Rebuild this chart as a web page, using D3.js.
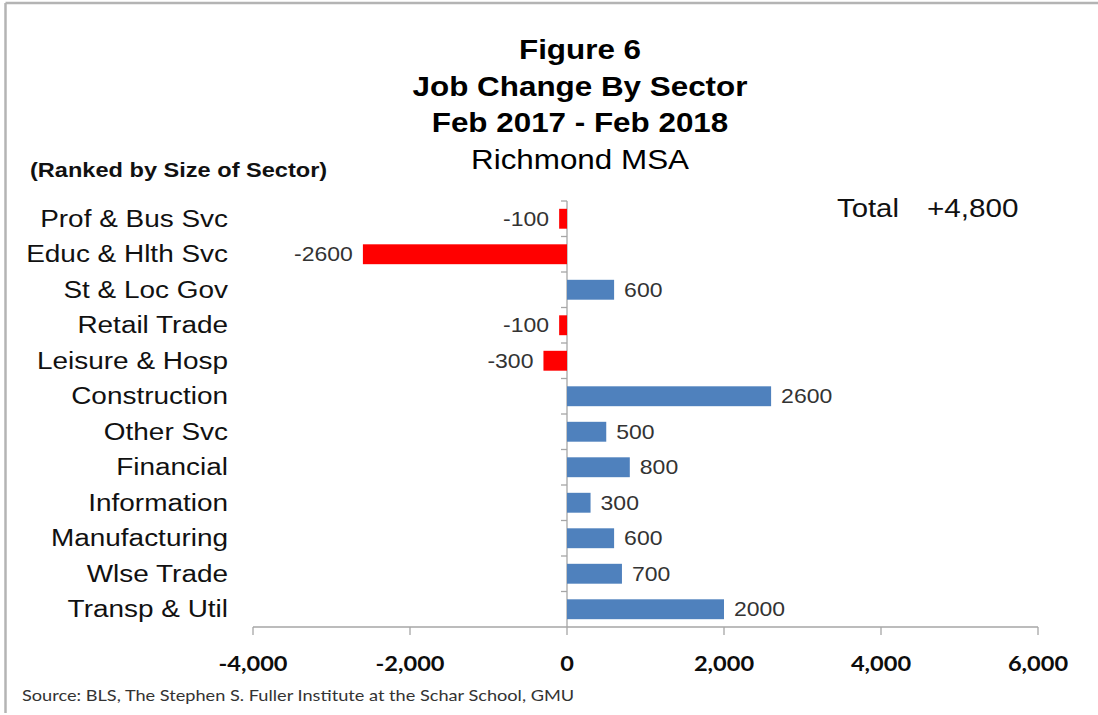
<!DOCTYPE html>
<html>
<head>
<meta charset="utf-8">
<script src="https://cdn.jsdelivr.net/npm/d3@7"></script>
<style>
  html, body { margin: 0; padding: 0; background: #fff; }
  svg { display: block; }
</style>
</head>
<body>
<svg id="chart" width="1098" height="715"></svg>
<script>
// Sector job change, Feb 2017 - Feb 2018, Richmond MSA (ranked by size of sector)
const sectors = [
  "Prof & Bus Svc", "Educ & Hlth Svc", "St & Loc Gov", "Retail Trade",
  "Leisure & Hosp", "Construction", "Other Svc", "Financial",
  "Information", "Manufacturing", "Wlse Trade", "Transp & Util"
];
const jobChange = [-100, -2600, 600, -100, -300, 2600, 500, 800, 300, 600, 700, 2000];
const xTicks = [-4000, -2000, 0, 2000, 4000, 6000];
const titleLines = ["Figure 6", "Job Change By Sector", "Feb 2017 - Feb 2018", "Richmond MSA"];
const totalLabel = ["Total", "+4,800"];
const subtitle = "(Ranked by Size of Sector)";
const sourceNote = "Source: BLS, The Stephen S. Fuller Institute at the Schar School, GMU";

const SX = 1.15; // horizontal glyph stretch used by this figure's type
const ARIAL = "'Liberation Sans', Arial, sans-serif";
const CALIBRI = "Lato, 'Open Sans', sans-serif";

const svg = d3.select("#chart");

// frame
svg.append("line").attr("x1", 5.5).attr("x2", 1098).attr("y1", 3).attr("y2", 3)
  .attr("stroke", "#b4b4b4").attr("stroke-width", 2.5);
svg.append("line").attr("x1", 5.5).attr("x2", 5.5).attr("y1", 3).attr("y2", 713)
  .attr("stroke", "#b4b4b4").attr("stroke-width", 2.5);

function txt(x, y, s, opts) {
  return svg.append("text")
    .attr("transform", `translate(${x},${y}) scale(${SX},1)`)
    .attr("font-family", opts.family || ARIAL)
    .attr("font-size", opts.size)
    .attr("font-weight", opts.weight || "normal")
    .attr("fill", opts.fill || "#111")
    .attr("text-anchor", opts.anchor || "start")
    .text(s);
}

// scales
const x = d3.scaleLinear().domain([-4000, 6000]).range([253, 1038]);
const y = d3.scaleBand().domain(sectors).range([201, 627]).paddingInner(0.44).paddingOuter(0.22);
const step = y.step();
const fmt = v => d3.format(",")(v).replace("\u2212", "-");

// x axis
const xAxisY = 627;
svg.append("line").attr("x1", x(-4000)).attr("x2", x(6000))
  .attr("y1", xAxisY).attr("y2", xAxisY).attr("stroke", "#a6a6a6").attr("stroke-width", 1.3);
xTicks.forEach(v => {
  svg.append("line").attr("x1", x(v)).attr("x2", x(v))
    .attr("y1", xAxisY).attr("y2", xAxisY + 8).attr("stroke", "#a6a6a6").attr("stroke-width", 1.3);
  txt(x(v), 671, fmt(v), { family: CALIBRI, size: 20.5, weight: "bold", anchor: "middle", fill: "#0d0d0d" });
});

// y axis at zero, ticks between categories
svg.append("line").attr("x1", x(0)).attr("x2", x(0)).attr("y1", 201).attr("y2", xAxisY)
  .attr("stroke", "#a6a6a6").attr("stroke-width", 1.3);
d3.range(sectors.length).forEach(i => {
  const yy = 201 + i * step;
  svg.append("line").attr("x1", x(0) - 6).attr("x2", x(0))
    .attr("y1", yy).attr("y2", yy).attr("stroke", "#a6a6a6").attr("stroke-width", 1.3);
});

// bars
const data = sectors.map((s, i) => ({ sector: s, value: jobChange[i] }));
svg.append("g").selectAll("rect").data(data).join("rect")
  .attr("x", d => x(Math.min(0, d.value)))
  .attr("width", d => Math.abs(x(d.value) - x(0)))
  .attr("y", d => y(d.sector))
  .attr("height", y.bandwidth())
  .attr("fill", d => d.value < 0 ? "#ff0000" : "#4f81bd");

// category and value labels
data.forEach(d => {
  const cy = y(d.sector) + y.bandwidth() / 2;
  txt(228, cy + 8, d.sector, { size: 24.3, anchor: "end", fill: "#111" });
  const vx = d.value < 0 ? x(d.value) - 10 : x(d.value) + 10;
  txt(vx, cy + 7, String(d.value), { size: 20, anchor: d.value < 0 ? "end" : "start", fill: "#333" });
});

// titles
const titleY = [59, 96, 132, 169];
titleLines.forEach((s, i) => {
  txt(580, titleY[i], s, { size: 27.3, weight: i < 3 ? "bold" : "normal", anchor: "middle", fill: "#000" });
});

txt(30, 177, subtitle, { size: 20.5, weight: "bold", fill: "#111" });

// total annotation
txt(837, 217, totalLabel[0], { size: 25.5, fill: "#111" });
txt(927, 217, totalLabel[1], { size: 25.8, fill: "#111" });

// source
txt(22, 701, sourceNote, { family: CALIBRI, size: 15.8, fill: "#333" });
</script>
</body>
</html>
